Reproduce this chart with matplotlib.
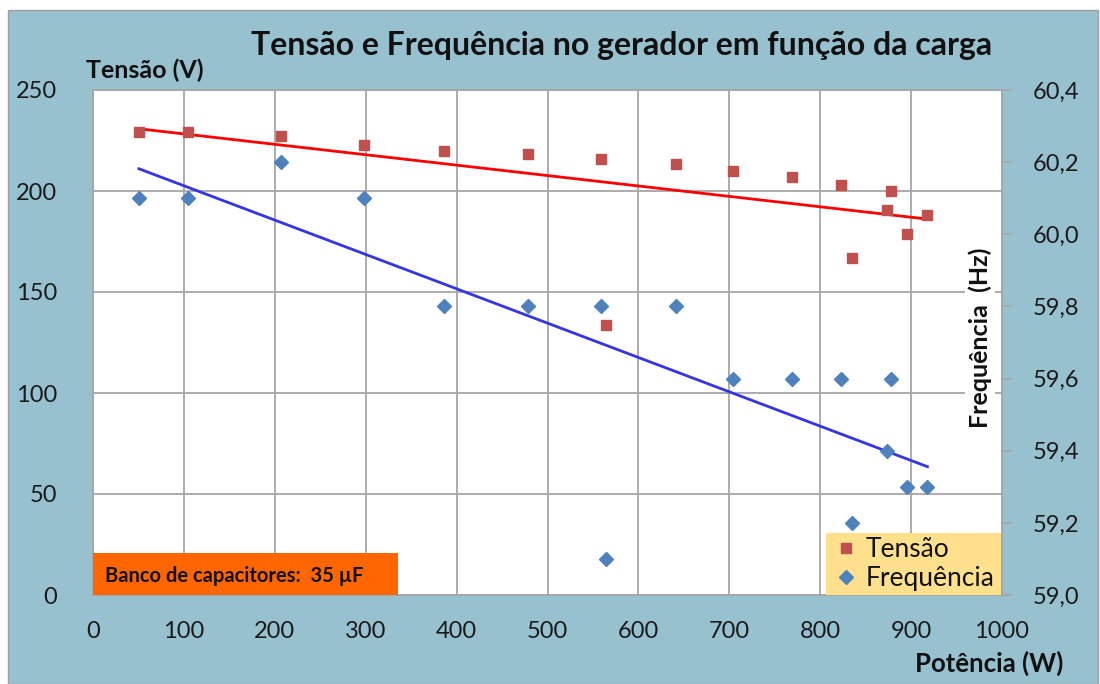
import numpy as np
import matplotlib
matplotlib.use("Agg")
import matplotlib.pyplot as plt
from matplotlib.patches import Rectangle
from matplotlib.lines import Line2D

plt.rcParams['font.family'] = ['Lato', 'DejaVu Sans']

# ---- data ----
potencia = [50.5, 104, 206.6, 298, 386, 479, 559, 564.5, 641, 704, 769, 823, 835.5, 873, 878, 895, 918]
tensao = [229, 229, 227, 223, 220, 218.5, 216, 133.5, 213.5, 210, 207, 203, 166.7, 190.4, 200, 178.8, 188]
frequencia = [60.1, 60.1, 60.2, 60.1, 59.8, 59.8, 59.8, 59.1, 59.8, 59.6, 59.6, 59.6, 59.2, 59.4, 59.6, 59.3, 59.3]
x_ticks = [0, 100, 200, 300, 400, 500, 600, 700, 800, 900, 1000]
v_ticks = [0, 50, 100, 150, 200, 250]
f_ticks = [59.0, 59.2, 59.4, 59.6, 59.8, 60.0, 60.2, 60.4]

title = "Tensão e Frequência no gerador em função da carga"
note = "Banco de capacitores:  35 µF"

BG = '#98C1CF'
GRID = '#A6A6A6'
W, H = 1100, 684

fig = plt.figure(figsize=(W / 100, H / 100), dpi=100, facecolor='white')
fig.patches.append(Rectangle((8 / W, 0), 1090 / W, (H - 10) / H, transform=fig.transFigure,
                             facecolor=BG, edgecolor='#A0A0A0', linewidth=1.0, zorder=-10))

ax = fig.add_axes([93 / W, 1 - 595 / H, (1002 - 93) / W, (595 - 90) / H])
ax.set_facecolor('white')
ax.set_xlim(0, 1000)
ax.set_ylim(0, 250)
ax.set_xticks(x_ticks)
ax.set_yticks(v_ticks)
ax.grid(True, color=GRID, linewidth=1.3)
ax.set_axisbelow(True)
ax.tick_params(axis='both', length=0, labelsize=17, colors='#1a1a1a')
ax.tick_params(axis='y', pad=26)
ax.tick_params(axis='x', pad=19)
for s in ax.spines.values():
    s.set_color(GRID)
    s.set_linewidth(1.3)

ax2 = ax.twinx()
ax2.set_ylim(59.0, 60.4)
ax2.set_yticks(f_ticks)
ax2.set_yticklabels([f"{v:.1f}".replace('.', ',') for v in f_ticks])
ax2.tick_params(axis='y', length=7, width=1.2, color=GRID, labelsize=17, pad=15, labelcolor='#1a1a1a')
for s in ax2.spines.values():
    s.set_visible(False)

# scatter points
ax.plot(potencia, tensao, linestyle='none', marker='s', markersize=6.5,
        color='#C0504D', zorder=3)
ax2.plot(potencia, frequencia, linestyle='none', marker='D', markersize=7,
         color='#4F81BD', zorder=3)

# linear trend lines
px = np.array([min(potencia), max(potencia)])
cv = np.polyfit(potencia, tensao, 1)
cf = np.polyfit(potencia, frequencia, 1)
ax.plot(px, np.polyval(cv, px), color='#FF0000', linewidth=2.0, zorder=2)
ax2.plot(px, np.polyval(cf, px), color='#3535E8', linewidth=2.0, zorder=2)

# texts
fig.text(622 / W, 1 - 45 / H, title, ha='center', va='center', fontsize=23, fontweight='bold', color='#111111')
fig.text(145 / W, 1 - 70 / H, "Tensão (V)", ha='center', va='center', fontsize=18, fontweight='bold', color='#111111')
fig.text(1063 / W, 1 - 663 / H, "Potência (W)", ha='right', va='center', fontsize=18.5, fontweight='bold', color='#111111')
fig.text(980 / W, 1 - 338 / H, "Frequência  (Hz)", ha='center', va='center', rotation=90,
         fontsize=18, fontweight='bold', color='#111111',
         bbox=dict(facecolor='white', edgecolor='none', pad=2), zorder=5)

# note box
fig.patches.append(Rectangle((93 / W, 1 - 595 / H), (398 - 93) / W, (595 - 553) / H,
                             transform=fig.transFigure, facecolor='#FF6600', edgecolor='none', zorder=4))
fig.text(105 / W, 1 - 576 / H, note, ha='left', va='center', fontsize=14.5, fontweight='bold',
         color='#111111', zorder=6)

# legend
handles = [Line2D([], [], linestyle='none', marker='s', markersize=6.5, color='#C0504D'),
           Line2D([], [], linestyle='none', marker='D', markersize=7, color='#4F81BD')]
leg = fig.legend(handles, ["Tensão", "Frequência"], loc='lower left',
                 bbox_to_anchor=(826 / W, 1 - 595 / H, (1001 - 826) / W, (595 - 530) / H),
                 mode='expand', frameon=True, fancybox=False, framealpha=1,
                 facecolor='#FFE08C', edgecolor='none', fontsize=19,
                 handlelength=1.2, handletextpad=0.15, borderpad=0.16, labelspacing=0.14,
                 borderaxespad=0)
for t in leg.get_texts():
    t.set_color('#111111')

fig.savefig('out.png', dpi=100, facecolor=fig.get_facecolor())
